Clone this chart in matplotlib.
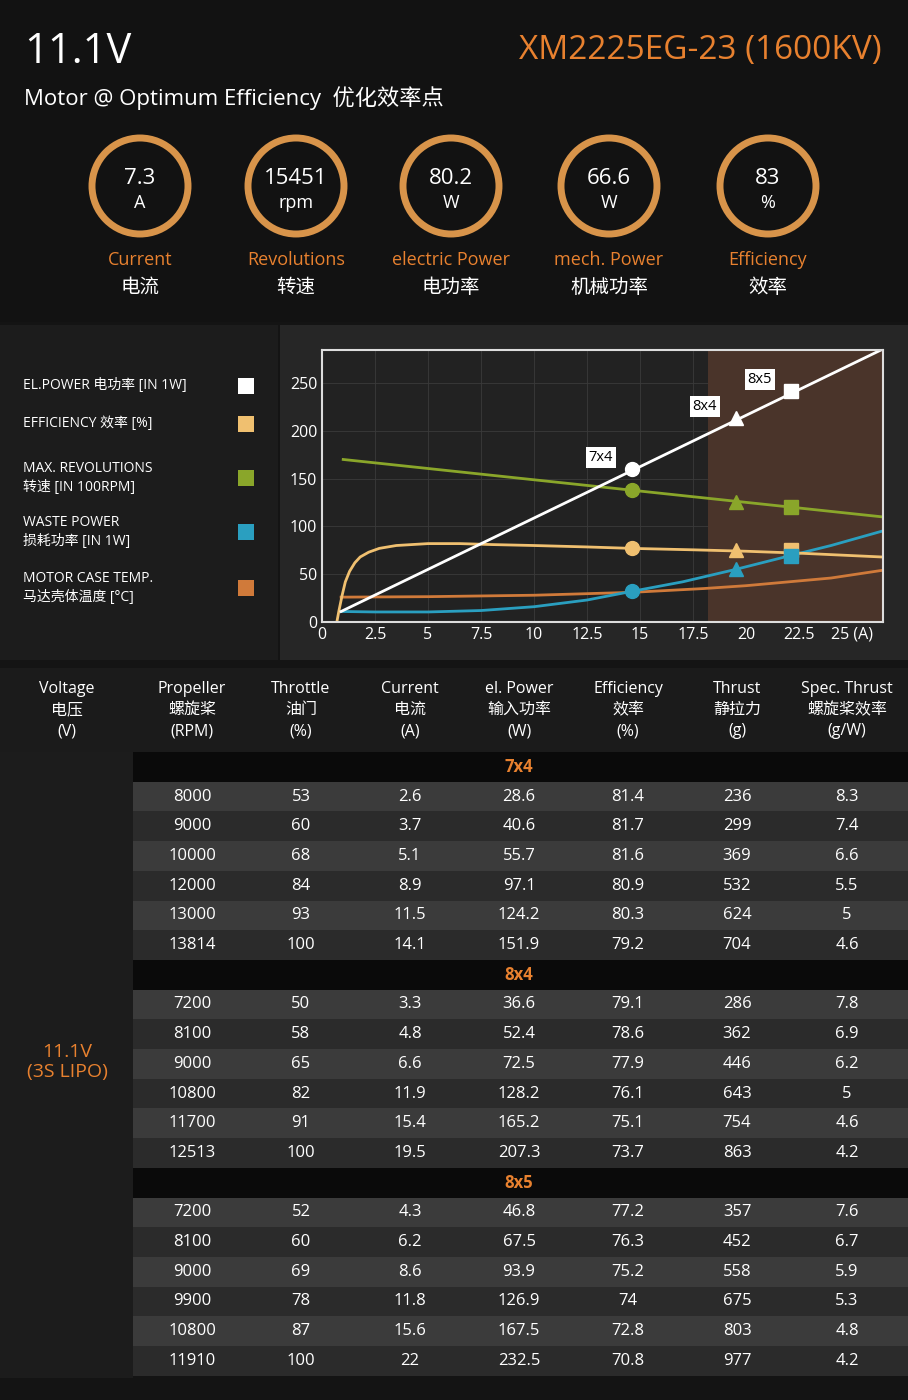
import matplotlib.pyplot as plt
from matplotlib.patches import Rectangle, Circle

plt.rcParams['font.family'] = ['Open Sans', 'Noto Sans CJK SC', 'DejaVu Sans']

ORANGE = '#e8812f'

# ---- data ----
stat_values = ['7.3', '15451', '80.2', '66.6', '83']
stat_units = ['A', 'rpm', 'W', 'W', '%']
stat_names = ['Current', 'Revolutions', 'electric Power', 'mech. Power', 'Efficiency']
stat_names_cn = ['电流', '转速', '电功率', '机械功率', '效率']

power_x = [0.9, 26.4]
power_y = [11, 285]
rev_x = [1.0, 26.4]
rev_y = [170, 110]
eff_x = [0.7, 0.8, 0.95, 1.1, 1.3, 1.55, 1.8, 2.2, 2.7, 3.5, 5, 6.5, 8, 10, 12.5, 14.6, 17.5, 20, 22.5, 26.4]
eff_y = [0, 12, 28, 42, 53, 62, 68, 73, 77, 80, 82, 82, 81, 80, 78.5, 77, 75.5, 74, 72, 68]
waste_x = [0.9, 2.5, 5, 7.5, 10, 12.5, 14.6, 17, 19.5, 22, 24, 26.4]
waste_y = [11, 10.5, 10.5, 12, 16, 23, 32, 42, 55, 69, 80, 95]
temp_x = [0.9, 5, 10, 14.6, 18, 20, 22, 24, 26.4]
temp_y = [26, 26.5, 28, 31, 35, 38, 42, 46, 54]

op_x = [14.6, 19.5, 22.1]
op_labels = ['7x4', '8x4', '8x5']
op_markers = ['o', '^', 's']
op_power = [160, 213, 242]
op_rev = [138, 126, 120]
op_eff = [77, 75, 75]
op_waste = [32, 55, 69]

legend_labels = ['EL.POWER 电功率 [IN 1W]', 'EFFICIENCY 效率 [%]',
                 'MAX. REVOLUTIONS\n转速 [IN 100RPM]', 'WASTE POWER\n损耗功率 [IN 1W]',
                 'MOTOR CASE TEMP.\n马达壳体温度 [°C]']
legend_colors = ['white', '#f0c070', '#8aa62a', '#2a9fc0', '#d07a3a']

headers = ['Voltage\n电压\n(V)', 'Propeller\n螺旋桨\n(RPM)', 'Throttle\n油门\n(%)',
           'Current\n电流\n(A)', 'el. Power\n输入功率\n(W)', 'Efficiency\n效率\n(%)',
           'Thrust\n静拉力\n(g)', 'Spec. Thrust\n螺旋桨效率\n(g/W)']
props = ['7x4', '8x4', '8x5']
rows = {
    '7x4': [[8000, 53, 2.6, 28.6, 81.4, 236, 8.3], [9000, 60, 3.7, 40.6, 81.7, 299, 7.4],
            [10000, 68, 5.1, 55.7, 81.6, 369, 6.6], [12000, 84, 8.9, 97.1, 80.9, 532, 5.5],
            [13000, 93, 11.5, 124.2, 80.3, 624, 5], [13814, 100, 14.1, 151.9, 79.2, 704, 4.6]],
    '8x4': [[7200, 50, 3.3, 36.6, 79.1, 286, 7.8], [8100, 58, 4.8, 52.4, 78.6, 362, 6.9],
            [9000, 65, 6.6, 72.5, 77.9, 446, 6.2], [10800, 82, 11.9, 128.2, 76.1, 643, 5],
            [11700, 91, 15.4, 165.2, 75.1, 754, 4.6], [12513, 100, 19.5, 207.3, 73.7, 863, 4.2]],
    '8x5': [[7200, 52, 4.3, 46.8, 77.2, 357, 7.6], [8100, 60, 6.2, 67.5, 76.3, 452, 6.7],
            [9000, 69, 8.6, 93.9, 75.2, 558, 5.9], [9900, 78, 11.8, 126.9, 74, 675, 5.3],
            [10800, 87, 15.6, 167.5, 72.8, 803, 4.8], [11910, 100, 22, 232.5, 70.8, 977, 4.2]],
}

# ---- canvas in pixel coords ----
fig = plt.figure(figsize=(9.08, 14), dpi=100, facecolor='#141414')
bg = fig.add_axes([0, 0, 1, 1])
bg.set_xlim(0, 908)
bg.set_ylim(1400, 0)
bg.axis('off')

def rect(x, y, w, h, c):
    bg.add_patch(Rectangle((x, y), w, h, color=c, lw=0))

rect(0, 0, 908, 322, '#121212')
rect(0, 325, 278, 335, '#1c1c1c')
rect(280, 325, 628, 335, '#262626')
rect(0, 668, 908, 84, '#1b1b1b')

bg.text(24, 52, '11.1V', color='white', fontsize=30, va='center')
bg.text(882, 50, 'XM2225EG-23 (1600KV)', color=ORANGE, fontsize=24, va='center', ha='right')
bg.text(24, 98, 'Motor @ Optimum Efficiency  优化效率点', color='white', fontsize=16, va='center')

cx = [140, 296, 451, 609, 768]
for x, v, u, n, ncn in zip(cx, stat_values, stat_units, stat_names, stat_names_cn):
    bg.add_patch(Circle((x, 186), 48, fill=False, ec='#d8944a', lw=5))
    bg.text(x, 178, v, color='white', fontsize=16, ha='center', va='center')
    bg.text(x, 203, u, color='white', fontsize=13, ha='center', va='center')
    bg.text(x, 260, n, color=ORANGE, fontsize=13, ha='center', va='center')
    bg.text(x, 288, ncn, color='white', fontsize=14, ha='center', va='center')

for i, (lab, c) in enumerate(zip(legend_labels, legend_colors)):
    y = [386, 424, 478, 532, 588][i]
    bg.text(23, y, lab, color='white', fontsize=10, va='center', linespacing=1.4)
    rect(238, y - 8, 16, 16, c)

# ---- table ----
col_x = [67, 192, 301, 410, 519, 628, 737, 847]
for x, h in zip(col_x, headers):
    bg.text(x, 710, h, color='white', fontsize=11.5, ha='center', va='center', linespacing=1.45)
rect(0, 752, 133, 626, '#1c1c1c')
step = 29.7
y = 752
for p in props:
    rect(133, y, 775, step, '#0a0a0a')
    bg.text(519, y + step / 2, p, color=ORANGE, fontsize=12, ha='center', va='center', weight='bold')
    y += step
    for k, r in enumerate(rows[p]):
        rect(133, y, 775, step, '#3b3b3b' if k % 2 == 0 else '#2b2b2b')
        for x, val in zip(col_x[1:], r):
            bg.text(x, y + step / 2, str(val), color='white', fontsize=12, ha='center', va='center')
        y += step
bg.text(67, 1062, '11.1V\n(3S LIPO)', color=ORANGE, fontsize=14, ha='center', va='center')

# ---- chart ----
ax = fig.add_axes([322 / 908, 1 - 622 / 1400, 561 / 908, 272 / 1400], facecolor='#222222')
ax.set_xlim(0, 26.45)
ax.set_ylim(0, 284.5)
ax.axvspan(18.2, 26.45, color='#4a342a', lw=0)
ax.grid(True, color='#3a3a3a', lw=0.6)
ax.set_axisbelow(True)
for s in ax.spines.values():
    s.set_color('#dddddd')
    s.set_linewidth(1.5)
ax.set_xticks([0, 2.5, 5, 7.5, 10, 12.5, 15, 17.5, 20, 22.5, 25])
ax.set_xticklabels(['0', '2.5', '5', '7.5', '10', '12.5', '15', '17.5', '20', '22.5', '25 (A)'])
ax.get_xticklabels()[-1].set_x(25.6)
ax.set_yticks([0, 50, 100, 150, 200, 250])
ax.tick_params(colors='white', labelsize=11.5, length=0)

ax.plot(temp_x, temp_y, color='#d07a3a', lw=2)
ax.plot(waste_x, waste_y, color='#2a9fc0', lw=2)
ax.plot(eff_x, eff_y, color='#f0c070', lw=2)
ax.plot(rev_x, rev_y, color='#8aa62a', lw=2)
ax.plot(power_x, power_y, color='white', lw=2)
for i in range(3):
    m = op_markers[i]
    ax.plot(op_x[i], op_rev[i], m, color='#8aa62a', ms=10)
    ax.plot(op_x[i], op_eff[i], m, color='#f0c070', ms=10)
    ax.plot(op_x[i], op_waste[i], m, color='#2a9fc0', ms=10)
    ax.plot(op_x[i], op_power[i], m, color='white', ms=10)
    ax.text(op_x[i] - 1.45, op_power[i] + 12, op_labels[i], color='black', fontsize=10.5,
            ha='center', va='center',
            bbox=dict(boxstyle='square,pad=0.2', fc='white', ec='none'))

fig.savefig('out.png', dpi=100, facecolor=fig.get_facecolor())
